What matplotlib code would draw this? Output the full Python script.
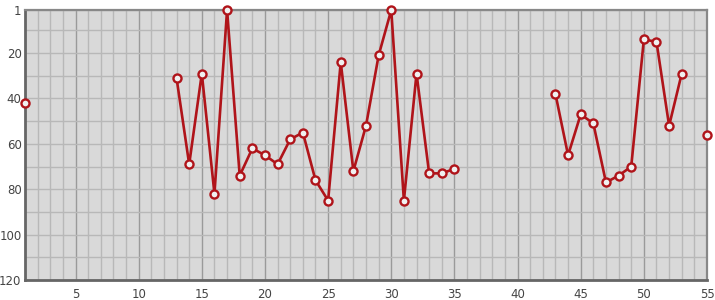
import numpy as np
import matplotlib
matplotlib.use("Agg")
import matplotlib.pyplot as plt
from matplotlib.ticker import MultipleLocator, FixedLocator

nan = np.nan
x_values = list(range(1, 56))
ranks = [42, nan, nan, nan, nan, nan, nan, nan, nan, nan,
         nan, nan, 31, 69, 29, 82, 1, 74, 62, 65,
         69, 58, 55, 76, 85, 24, 72, 52, 21, 1,
         85, 29, 73, 73, 71, nan, nan, nan, nan, nan,
         nan, nan, 38, 65, 47, 51, 77, 74, 70, 14,
         15, 52, 29, nan, 56]
x_ticks = [5, 10, 15, 20, 25, 30, 35, 40, 45, 50, 55]
y_ticks = [1, 20, 40, 60, 80, 100, 120]

fig = plt.figure(figsize=(7.15, 3.0), dpi=100)
ax = fig.add_axes([25/715, 20/300, 682/715, 270/300])
ax.set_facecolor('#d9d9d9')

ax.set_xlim(1, 55)
ax.set_ylim(120, 1)

# grid
ax.xaxis.set_minor_locator(MultipleLocator(1))
ax.yaxis.set_minor_locator(FixedLocator(list(range(10, 120, 10))))
ax.set_xticks(x_ticks)
ax.set_yticks(y_ticks)
ax.grid(which='minor', axis='x', color='#b8b8b8', lw=1.0)
ax.grid(which='major', axis='x', color='#9a9a9a', lw=1.0)
ax.grid(which='minor', axis='y', color='#b8b8b8', lw=1.0)
ax.grid(which='major', axis='y', color='#b8b8b8', lw=1.0)
ax.set_axisbelow(True)

ax.plot(x_values, ranks, color='#b0141a', lw=1.9, marker='o', ms=5.8,
        mfc='#f0f0f0', mec='#b0141a', mew=1.7, clip_on=False, zorder=3)

ax.tick_params(which='both', length=0)
ax.tick_params(axis='x', pad=6, labelsize=8.5)
ax.tick_params(axis='y', pad=2.5, labelsize=8.5)
for lbl in ax.get_xticklabels() + ax.get_yticklabels():
    lbl.set_color('#444444')

for side in ['left', 'bottom']:
    ax.spines[side].set_color('#666666')
    ax.spines[side].set_linewidth(2.0)
for side in ['top', 'right']:
    ax.spines[side].set_color('#888888')
    ax.spines[side].set_linewidth(1.6)

fig.savefig('out.png', dpi=100)
